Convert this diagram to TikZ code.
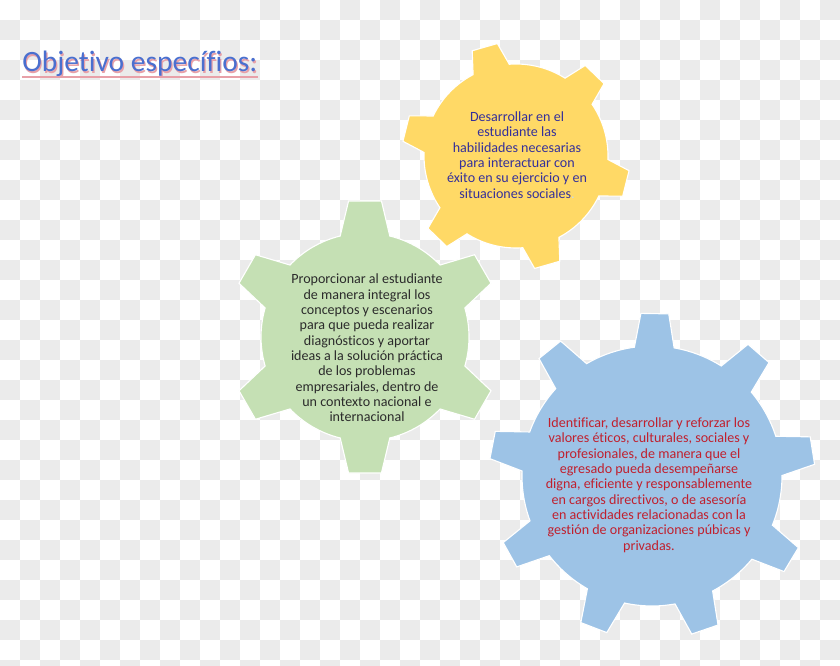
\documentclass[tikz,border=0pt]{standalone}
\usepackage{fontspec}
\setmainfont{Carlito}[Ligatures=NoCommon]
\usepackage{tikz}
\usetikzlibrary{positioning}
\definecolor{gear-yellow}{HTML}{FFD966}
\definecolor{gear-green}{HTML}{C5E0B4}
\definecolor{gear-blue}{HTML}{9DC3E6}
\definecolor{text-navy}{HTML}{35309A}
\definecolor{text-dark}{HTML}{2B2B2B}
\definecolor{text-red}{HTML}{C0202E}
\definecolor{title-blue}{HTML}{4A6FCF}
\definecolor{title-pink}{HTML}{E8A0A8}
\definecolor{checker-grey}{HTML}{EBEBEB}

% colour, centre, teeth, offset, body radius, tip radius, base half angle, tip half angle
\newcommand{\gearshape}[8]{%
    \fill[#1, draw=white, line width=0.8pt, shift={#2}]
        ({#4-#7}:#5)
        \foreach \k in {1,...,#3} {
            -- ({#4+(\k-1)*360/#3-#8}:#6) -- ({#4+(\k-1)*360/#3+#8}:#6)
            -- ({#4+(\k-1)*360/#3+#7}:#5)
            arc[start angle={#4+(\k-1)*360/#3+#7}, end angle={#4+\k*360/#3-#7}, radius=#5]
        } -- cycle;
}

\begin{document}
\begin{tikzpicture}[x=0.025cm, y=0.025cm]

    % canvas
    \useasboundingbox (0,0) rectangle (840,665);
    \begin{scope}
        \clip (0,0) rectangle (840,665);
        \fill[white] (0,0) rectangle (840,665);
        \foreach \c in {0,...,41} {
            \foreach \r in {0,...,33} {
                \pgfmathtruncatemacro{\odd}{mod(\c+\r,2)}
                \ifnum\odd=1
                    \fill[checker-grey] ({20*\c},{665-20*\r}) rectangle ++(20,-20);
                \fi
            }
        }
    \end{scope}

    % title
    \begin{scope}[every node/.style={anchor=base west, font=\fontsize{21}{25}\selectfont, inner sep=0pt}]
        \node[text=title-pink] (titleshadow) at (23.2,591.8) {Objetivo específios:};
        \node[text=title-blue] (title) at (22,593) {Objetivo específios:};
    \end{scope}
    \draw[title-pink, line width=0.8pt] ([yshift=-3.6pt]title.base west) -- ([yshift=-3.6pt]title.base east);

    % gears
    \gearshape{gear-yellow}{(516,509)}{6}{46}{92}{114}{11.8}{6.6}
    \gearshape{gear-green}{(365,328)}{6}{30}{104}{137}{13.8}{6.9}
    \gearshape{gear-blue}{(652,189)}{9}{9}{130}{163}{8.8}{4.9}

    % objectives
    \begin{scope}[every node/.style={align=center, font=\fontsize{10}{10.9}\selectfont}]
        \node[text=text-navy] (desarrollar) at (517,510) {
            Desarrollar en el\\
            estudiante las\\
            habilidades necesarias\\
            para interactuar con\\
            éxito en su ejercicio y en\\
            situaciones sociales\textcolor{gear-blue!60}{.}
        };
        \node[text=text-dark] (proporcionar) at (367,317) {
            Proporcionar al estudiante\\
            de manera integral los\\
            conceptos y escenarios\\
            para que pueda realizar\\
            diagnósticos y aportar\\
            ideas a la solución práctica\\
            de los problemas\\
            empresariales, dentro de\\
            un contexto nacional e\\
            internacional
        };
        \node[text=text-red] (identificar) at (649,180) {
            Identificar, desarrollar y reforzar los\\
            valores éticos, culturales, sociales y\\
            profesionales, de manera que el\\
            egresado pueda desempeñarse\\
            digna, eficiente y responsablemente\\
            en cargos directivos, o de asesoría\\
            en actividades relacionadas con la\\
            gestión de organizaciones púbicas y\\
            privadas.
        };
    \end{scope}

\end{tikzpicture}
\end{document}
